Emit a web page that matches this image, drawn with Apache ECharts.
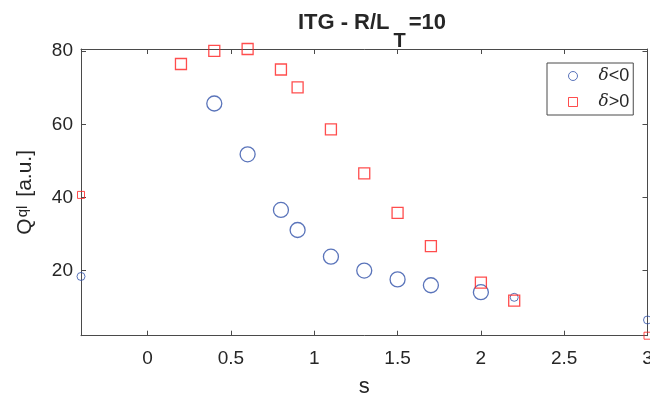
<!DOCTYPE html>
<html>
<head>
<meta charset="utf-8">
<script src="https://cdn.jsdelivr.net/npm/echarts@6/dist/echarts.min.js"></script>
<style>html,body{margin:0;padding:0;background:#fff}#c{width:650px;height:393px}</style>
</head>
<body>
<div id="c"></div>
<script>
// delta < 0 (large markers)
const negS = [0.4, 0.6, 0.8, 0.9, 1.1, 1.3, 1.5, 1.7, 2.0];
const negQ = [65.7, 51.8, 36.6, 31.1, 23.8, 20.0, 17.6, 16.0, 14.1];
// delta < 0 (small markers)
const negSmallS = [-0.4, 2.2, 3.0];
const negSmallQ = [18.4, 12.7, 6.5];
// delta > 0 (large markers)
const posS = [0.2, 0.4, 0.6, 0.8, 0.9, 1.1, 1.3, 1.5, 1.7, 2.0, 2.2];
const posQ = [76.5, 80.1, 80.6, 75.0, 70.1, 58.6, 46.6, 35.8, 26.7, 16.7, 11.8];
// delta > 0 (small markers)
const posSmallS = [-0.4, 3.0];
const posSmallQ = [40.7, 2.2];
// axes
const xTicks = [0, 0.5, 1, 1.5, 2, 2.5, 3];
const yTicks = [20, 40, 60, 80];
const xMin = -0.4, xMax = 3, yMin = 2.2, yMax = 80.6;

const BLUE = '#3151a9';
const RED = '#ff2020';
const AX = '#4a4a4a';
const FONT = 'Liberation Sans, Arial, Helvetica, sans-serif';

const zip = (a, b) => a.map((v, i) => [v, b[i]]);

const chart = echarts.init(document.getElementById('c'), null, {renderer: 'canvas'});
const baseX = {
  type: 'value', min: xMin, max: xMax,
  axisLine: {show: true, onZero: false, lineStyle: {color: AX, width: 1}},
  axisTick: {show: true, inside: true, length: 5, customValues: xTicks, lineStyle: {color: AX}},
  splitLine: {show: false}
};
const baseY = {
  type: 'value', min: yMin, max: yMax,
  axisLine: {show: true, onZero: false, lineStyle: {color: AX, width: 1}},
  axisTick: {show: true, inside: true, length: 5, customValues: yTicks, lineStyle: {color: AX}},
  splitLine: {show: false}
};
const option = {
  animation: false,
  backgroundColor: '#fff',
  textStyle: {fontFamily: FONT},
  title: {
    text: '{a|ITG - R/L}{b|T}{a|=10}',
    left: 367, textAlign: 'center', top: 7,
    textStyle: {
      rich: {
        a: {fontFamily: FONT, fontSize: 22, fontWeight: 'bold', color: '#262626', lineHeight: 25, verticalAlign: 'top'},
        b: {fontFamily: FONT, fontSize: 20, fontWeight: 'bold', color: '#262626', lineHeight: 23, verticalAlign: 'top', padding: [19, 3, 0, 4]}
      }
    }
  },
  grid: {left: 81, right: 2.5, top: 49, bottom: 57.3, containLabel: false, outerBoundsMode: 'none'},
  xAxis: [
    Object.assign({}, baseX, {
      position: 'bottom',
      name: 's', nameLocation: 'middle', nameGap: 40,
      nameTextStyle: {fontFamily: FONT, fontSize: 22, color: '#262626'},
      axisLabel: {show: true, customValues: xTicks, margin: 14, fontFamily: FONT, fontSize: 19, color: '#262626'}
    }),
    Object.assign({}, baseX, {position: 'top', axisLabel: {show: false}})
  ],
  yAxis: [
    Object.assign({}, baseY, {
      position: 'left',
      name: '{q|Q}{s|ql}{n|[a.u.]}', nameLocation: 'middle', nameGap: 40, nameRotate: 90,
      nameTextStyle: {
        rich: {
          q: {fontFamily: FONT, fontSize: 21, color: '#262626', lineHeight: 26, verticalAlign: 'top'},
          s: {fontFamily: FONT, fontSize: 15, color: '#262626', lineHeight: 15, verticalAlign: 'top', padding: [0, 4, 0, 1]},
          n: {fontFamily: FONT, fontSize: 21, color: '#262626', lineHeight: 26, verticalAlign: 'top', padding: [0, 0, 0, 5]}
        }
      },
      axisLabel: {show: true, customValues: yTicks, margin: 8, fontFamily: FONT, fontSize: 19, color: '#262626'}
    }),
    Object.assign({}, baseY, {position: 'right', axisLabel: {show: false}})
  ],
  legend: {
    orient: 'vertical', left: 547, top: 63,
    padding: [4, 4, 4, 21],
    itemWidth: 9, itemHeight: 9, itemGap: 8,
    backgroundColor: '#fff',
    borderColor: AX, borderWidth: 1, borderRadius: 0,
    data: [
      {name: 'neg', icon: 'circle', itemStyle: {color: 'rgba(0,0,0,0)', borderColor: BLUE, borderWidth: 1}},
      {name: 'pos', icon: 'rect', itemStyle: {color: 'rgba(0,0,0,0)', borderColor: RED, borderWidth: 1}}
    ],
    formatter: function (n) { return n === 'neg' ? '{d|δ}{t|<0}' : '{d|δ}{t|>0}'; },
    textStyle: {
      rich: {
        d: {fontFamily: 'DejaVu Serif, serif', fontStyle: 'italic', fontSize: 17, color: '#262626', padding: [0, 0, 0, 16], lineHeight: 20},
        t: {fontFamily: FONT, fontSize: 18, color: '#262626', lineHeight: 20}
      }
    }
  },
  series: [
    {name: 'neg', type: 'scatter', clip: false, data: zip(negS, negQ), symbol: 'circle', symbolSize: 15,
     itemStyle: {color: 'rgba(0,0,0,0)', borderColor: BLUE, borderWidth: 1.3}, emphasis: {disabled: true}},
    {name: 'negSmall', type: 'scatter', clip: false, data: zip(negSmallS, negSmallQ), symbol: 'circle', symbolSize: 8,
     itemStyle: {color: 'rgba(0,0,0,0)', borderColor: BLUE, borderWidth: 1}, emphasis: {disabled: true}},
    {name: 'pos', type: 'scatter', clip: false, data: zip(posS, posQ), symbol: 'rect', symbolSize: 11,
     itemStyle: {color: 'rgba(0,0,0,0)', borderColor: RED, borderWidth: 1.3}, emphasis: {disabled: true}},
    {name: 'posSmall', type: 'scatter', clip: false, data: zip(posSmallS, posSmallQ), symbol: 'rect', symbolSize: 7,
     itemStyle: {color: 'rgba(0,0,0,0)', borderColor: RED, borderWidth: 1}, emphasis: {disabled: true}}
  ]
};
chart.setOption(option);
</script>
</body>
</html>
